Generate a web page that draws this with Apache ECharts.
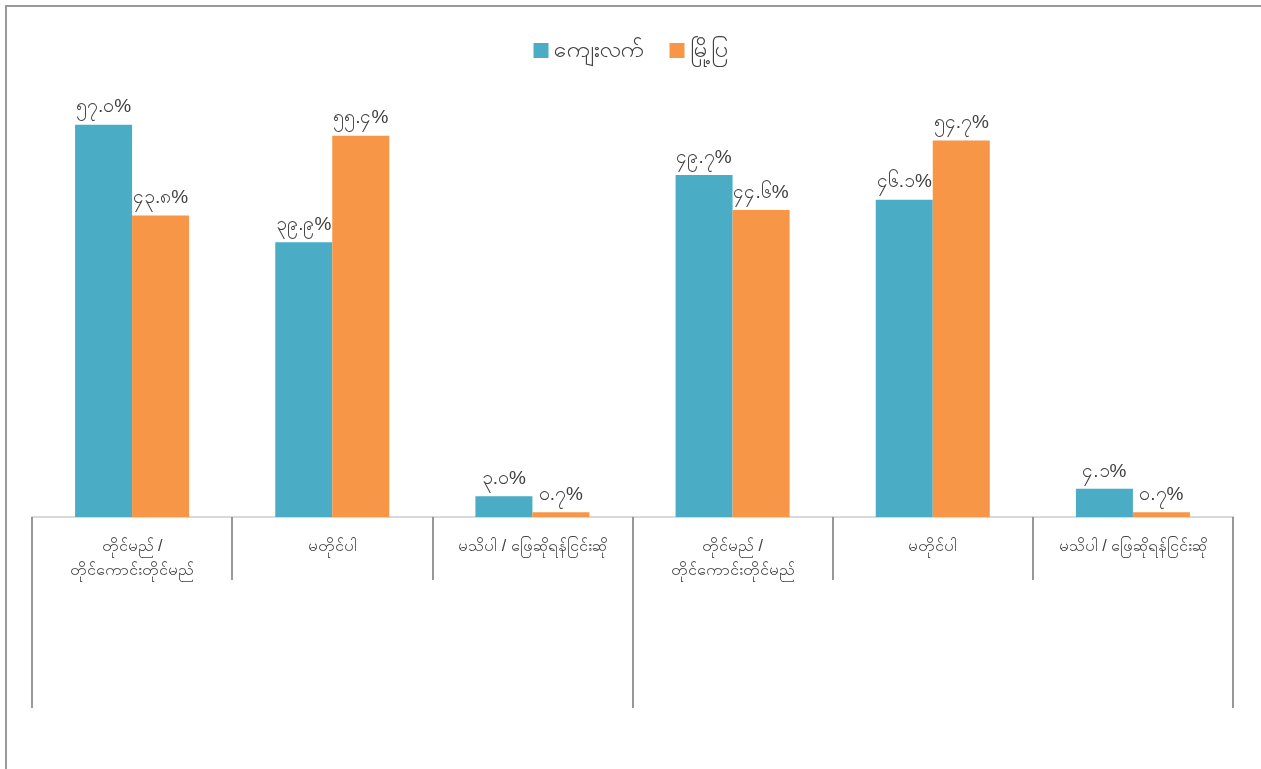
<!DOCTYPE html>
<html>
<head>
<meta charset="utf-8">
<script src="https://cdn.jsdelivr.net/npm/echarts@6/dist/echarts.min.js"></script>
<style>
  html, body { margin: 0; padding: 0; background: #fff; }
  #frame { position: absolute; left: 5px; top: 5px; width: 1256px; height: 764px;
           border-top: 2px solid #999; border-left: 2px solid #999; box-sizing: border-box; }
  #main { position: absolute; left: 0; top: 0; width: 1261px; height: 769px; }
</style>
</head>
<body>
<div id="frame"></div>
<div id="main"></div>
<script>
// categories (repeated for the two groups)
var categories = [
  'တိုင်မည် /\nတိုင်ကောင်းတိုင်မည်',
  'မတိုင်ပါ',
  'မသိပါ / ဖြေဆိုရန်ငြင်းဆို',
  'တိုင်မည် /\nတိုင်ကောင်းတိုင်မည်',
  'မတိုင်ပါ',
  'မသိပါ / ဖြေဆိုရန်ငြင်းဆို'
];
var groups = ['', ''];
var seriesNames = ['ကျေးလက်', 'မြို့ပြ'];
var rural = [57.0, 39.9, 3.0, 49.7, 46.1, 4.1];
var urban = [43.8, 55.4, 0.7, 44.6, 54.7, 0.7];

var mmDigits = ['၀', '၁', '၂', '၃', '၄', '၅', '၆', '၇', '၈', '၉'];
function toMyanmar(v) {
  return v.toFixed(1).replace(/[0-9]/g, function (d) { return mmDigits[+d]; }) + '%';
}

var chart = echarts.init(document.getElementById('main'));

var labelStyle = {
  show: true,
  position: 'top',
  distance: 8,
  color: '#404040',
  fontSize: 19,
  formatter: function (p) { return toMyanmar(p.value); }
};

chart.setOption({
  animation: false,
  color: ['#4bacc6', '#f79646'],
  legend: {
    top: 34,
    left: 'center',
    itemWidth: 15,
    itemHeight: 15,
    itemGap: 26,
    icon: 'rect',
    textStyle: { color: '#404040', fontSize: 23 },
    data: seriesNames
  },
  grid: { left: 32, right: 28, top: 104, bottom: 252 },
  xAxis: [
    {
      type: 'category',
      data: categories,
      axisLine: { lineStyle: { color: '#d9d9d9', width: 2 } },
      axisTick: { show: true, length: 63, interval: 0, lineStyle: { color: '#777', width: 1.5 } },
      axisLabel: { interval: 0, margin: 18, color: '#404040', fontSize: 16, lineHeight: 24 }
    },
    {
      type: 'category',
      data: groups,
      position: 'bottom',
      axisLine: { show: false },
      axisTick: { show: true, length: 191, interval: 0, lineStyle: { color: '#777', width: 1.5 } },
      axisLabel: { show: false }
    }
  ],
  yAxis: {
    type: 'value',
    min: 0,
    max: 60,
    show: false,
    splitLine: { show: false }
  },
  series: [
    {
      name: seriesNames[0],
      type: 'bar',
      data: rural,
      barWidth: 57,
      barGap: '0%',
      label: labelStyle
    },
    {
      name: seriesNames[1],
      type: 'bar',
      data: urban,
      barWidth: 57,
      barGap: '0%',
      label: labelStyle
    }
  ]
});
</script>
</body>
</html>
